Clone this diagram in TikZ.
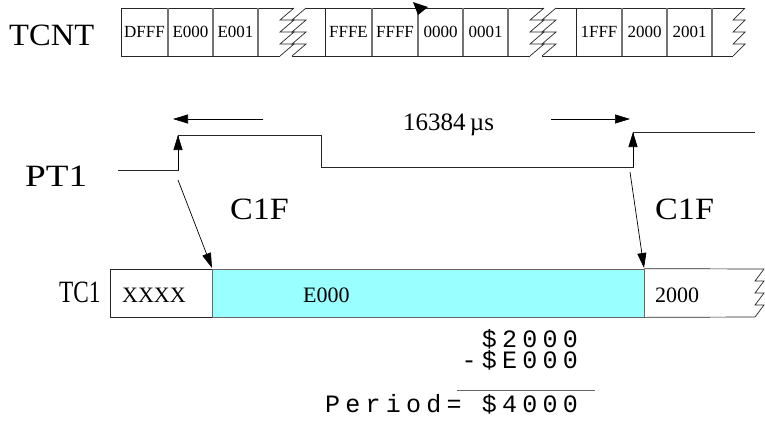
\documentclass[tikz,border=0pt]{standalone}
\usepackage{fontspec}
\setmainfont{Liberation Serif}
\newfontfamily\monolib{Liberation Mono}[LetterSpace=21]
\usetikzlibrary{arrows.meta}
\definecolor{cyanfill}{RGB}{153,255,255}
\newcommand\zigz[4]{%
  \draw[wire] ({#1+#3},#2) -- (#1,{#2+#4}) -- ({#1+#3},{#2+#4}) -- (#1,{#2+2*#4})
     -- ({#1+#3},{#2+2*#4}) -- (#1,{#2+3*#4}) -- ({#1+#3},{#2+3*#4}) -- (#1,{#2+4*#4});}
\tikzset{
  wire/.style={line width=0.7pt, draw=black!85},
  sep/.style={line width=1.8pt, draw=black!55},
  tcell/.style={draw=black!85, line width=0.7pt, minimum height=48, inner sep=0pt,
     font=\fontsize{17}{17}\selectfont},
  rcell/.style={draw=black!85, line width=0.7pt, minimum height=48, inner sep=0pt},
  big/.style={font=\fontsize{31}{31}\selectfont, inner sep=0pt},
  mid/.style={font=\fontsize{22}{22}\selectfont, inner sep=0pt},
  mono/.style={font=\fontsize{25}{25}\monolib, inner sep=0pt, anchor=base east},
  tip/.style={-{Triangle[length=15pt,width=9pt]}, line width=0.7pt},
}
\begin{document}
\begin{tikzpicture}[x=1pt,y=-1pt]
\useasboundingbox (0,0) rectangle (765,421);
% ---------- TCNT row ----------
\node[big, anchor=base west] (tcnt) at (9,45) {\scalebox{1.05}[1]{TCNT}};
\node[tcell, minimum width=47] (c1) at (144.5,32) {DFFF};
\node[tcell, minimum width=45] (c2) at (190.5,32) {E000};
\node[tcell, minimum width=45] (c3) at (235.5,32) {E001};
\node[tcell, minimum width=47] (c4) at (348.5,32) {FFFE};
\node[tcell, minimum width=46] (c5) at (395,32) {FFFF};
\node[tcell, minimum width=45] (c6) at (440.5,32) {0000};
\node[tcell, minimum width=45] (c7) at (485.5,32) {0001};
\node[tcell, minimum width=46] (c8) at (599,32) {1FFF};
\node[tcell, minimum width=45] (c9) at (644.5,32) {2000};
\node[tcell, minimum width=45] (c10) at (689.5,32) {2001};
% break sections
\draw[wire] (258,8) -- (294,8) (258,56) -- (280,56);
\zigz{280}{8}{14}{12}
\zigz{292}{8}{14}{12}
\draw[wire] (306,8) -- (325,8) (292,56) -- (325,56);
\draw[wire] (508,8) -- (544,8) (508,56) -- (530,56);
\zigz{530}{8}{14}{12}
\zigz{542}{8}{14}{12}
\draw[wire] (556,8) -- (576,8) (542,56) -- (576,56);
\draw[wire] (712,8) -- (745,8) (712,56) -- (733,56);
\zigz{733}{8}{12}{12}
% double separators
\foreach \xx in {168,213,258,372,418,463,508,622,667,712}
  \draw[sep] (\xx,8) -- (\xx,56);
\fill[black] (413,2) -- (428,7) -- (418,15) -- cycle;
% ---------- PT1 ----------
\node[big, anchor=base west] (pt1) at (25,186) {\scalebox{1.2}[1]{PT1}};
\coordinate (r1b) at (178,170);
\coordinate (r1t) at (178,135);
\coordinate (r2b) at (633,167);
\coordinate (r2t) at (633,132);
\draw[wire] (118,170) -- (r1b) -- (r1t) -- (321,135) -- (321,167) -- (r2b) -- (r2t) -- (755,132);
\draw[tip] (r1b) -- (r1t);
\draw[tip] (r2b) -- (r2t);
% dimension
\node[font=\fontsize{25}{25}\selectfont, inner sep=0pt, anchor=base west] (dim) at (403,130) {16384\,\textmu s};
\coordinate (dl) at (173,119);
\coordinate (dr) at (630,119);
\draw[tip] (263,119) -- (dl);
\draw[tip] (551,119) -- (dr);
% ---------- C1F ----------
\node[big, anchor=base west] (cf1) at (230,219) {\scalebox{1.1}[1]{C1F}};
\node[big, anchor=base west] (cf2) at (655,219) {\scalebox{1.1}[1]{C1F}};
% ---------- TC1 ----------
\node[big, anchor=base west] (tc1) at (59,302) {\scalebox{0.75}[1]{TC1}};
\node[rcell, minimum width=102] (xx) at (161,293) {};
\node[mid, anchor=base west] (xxl) at (122,302) {XXXX};
\node[rcell, fill=cyanfill, draw=black!60, minimum width=432] (cy) at (428,293) {};
\node[mid, anchor=base west] (cyl) at (303,302) {E000};
\draw[wire] (cy.north east) -- (764,269);
\draw[wire] (cy.south east) -- (755,317);
\zigz{755}{269}{9}{12}
\draw[sep, draw=black!60, line width=1.6pt] (cy.north east) -- (cy.south east);
\node[mid, anchor=base west] (tl) at (655,302) {2000};
\coordinate (a1s) at (178,180);
\coordinate (a1e) at (212,268);
\coordinate (a2s) at (630,172);
\coordinate (a2e) at (644,268);
\draw[tip] (a1s) -- (a1e);
\draw[tip] (a2s) -- (a2e);
% ---------- subtraction ----------
\node[mono] (m1) at (578,347) {\$2000};
\node[mono] (m2) at (578,368) {-\$E000};
\draw[line width=0.8pt, draw=black!60] (457,390) -- (595,390);
\node[mono] (m3) at (578,412) {Period= \$4000};
\end{tikzpicture}
\end{document}
